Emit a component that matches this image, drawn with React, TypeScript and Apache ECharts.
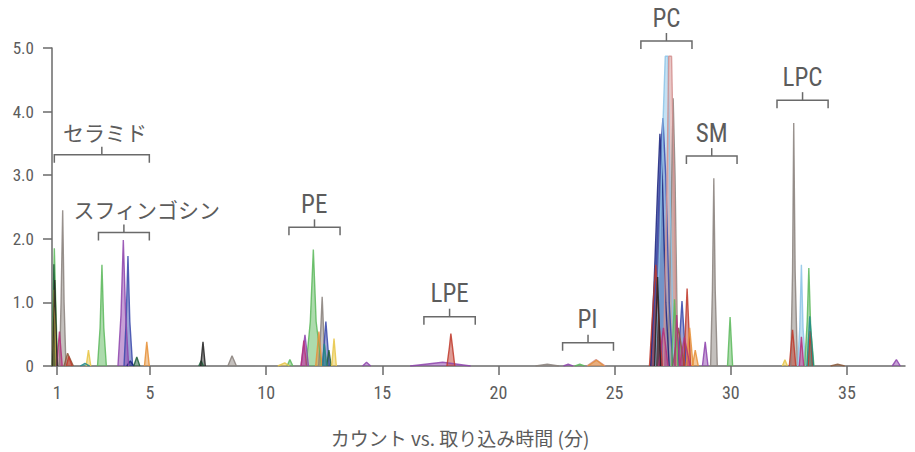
import React, { useEffect, useRef } from "react";
import * as echarts from "echarts";

// ---- axis ticks ----
const X_TICKS = [1, 5, 10, 15, 20, 25, 30, 35];
const Y_TICKS = [0, 1, 2, 3, 4, 5];
const X_TITLE = "カウント vs. 取り込み時間 (分)";

// ---- annotations: [xStart, xEnd, bracketY, labelX] ----
const ANNOT_LABELS = ["セラミド", "スフィンゴシン", "PE", "LPE", "PI", "PC", "SM", "LPC"];
const ANNOT_SPANS = [
  [0.88, 4.97, 3.32, 3.06],
  [2.78, 4.97, 2.1, 4.86],
  [10.98, 13.18, 2.18, 12.07],
  [16.79, 19.0, 0.775, 17.9],
  [22.76, 24.95, 0.366, 23.83],
  [26.13, 28.33, 5.11, 27.23],
  [28.09, 30.27, 3.3, 29.18],
  [31.99, 34.19, 4.18, 33.09],
];

// ---- chromatogram traces ----
const greenPeaks = [
  [[0.8, 0], [0.84, 1.2], [0.88, 1.85], [0.94, 1.0], [1.02, 0]],
  [[2.74, 0], [2.85, 0.6], [2.93, 1.59], [3.01, 0.6], [3.12, 0]],
  [[10.9, 0], [11.02, 0.1], [11.15, 0]],
  [[11.72, 0], [11.9, 0.7], [12.03, 1.83], [12.15, 0.7], [12.38, 0]],
  [[23.3, 0], [23.5, 0.03], [23.7, 0]],
  [[27.45, 0], [27.58, 1.05], [27.72, 0]],
  [[29.86, 0], [29.97, 0.77], [30.08, 0]],
  [[33.18, 0], [33.29, 0.7], [33.36, 1.54], [33.44, 0.6], [33.58, 0]],
];
const darkGreenPeaks = [
  [[0.8, 0], [0.86, 1.6], [0.93, 0.6], [1.02, 0]],
  [[4.3, 0], [4.43, 0.14], [4.56, 0]],
  [[7.1, 0], [7.2, 0.08], [7.3, 0]],
  [[12.6, 0], [12.7, 0.25], [12.8, 0]],
];
const greyPeaks = [
  [[1.1, 0], [1.17, 1.0], [1.24, 2.45], [1.3, 1.0], [1.38, 0]],
  [[8.35, 0], [8.53, 0.16], [8.72, 0]],
  [[12.26, 0], [12.34, 0.5], [12.41, 1.09], [12.49, 0.4], [12.6, 0]],
  [[21.6, 0], [22.1, 0.03], [22.6, 0]],
  [[27.3, 0], [27.42, 2.2], [27.52, 4.21], [27.6, 3.0], [27.72, 0]],
  [[29.13, 0], [29.21, 1.2], [29.27, 2.95], [29.33, 1.2], [29.42, 0]],
  [[32.58, 0], [32.66, 1.5], [32.71, 3.82], [32.77, 1.5], [32.87, 0]],
];
const brownPeaks = [
  [[1.3, 0], [1.45, 0.2], [1.7, 0]],
  [[27.5, 0], [27.75, 0.6], [28.0, 0]],
  [[34.3, 0], [34.6, 0.03], [34.9, 0]],
];
const purplePeaks = [
  [[3.62, 0], [3.75, 0.8], [3.85, 1.98], [3.95, 0.8], [4.08, 0]],
  [[11.5, 0], [11.67, 0.49], [11.82, 0]],
  [[14.15, 0], [14.32, 0.06], [14.5, 0]],
  [[16.2, 0], [17.6, 0.06], [18.8, 0]],
  [[22.8, 0], [23.0, 0.03], [23.2, 0]],
  [[28.78, 0], [28.9, 0.38], [29.02, 0]],
  [[36.95, 0], [37.13, 0.1], [37.3, 0]],
];
const bluePeaks = [
  [[3.88, 0], [3.97, 0.7], [4.05, 1.73], [4.13, 0.7], [4.25, 0]],
  [[12.42, 0], [12.57, 0.7], [12.72, 0]],
  [[26.55, 0], [26.75, 1.2], [26.9, 2.6], [27.0, 3.5], [27.08, 3.9], [27.2, 3.0], [27.35, 1.0], [27.5, 0]],
  [[27.72, 0], [27.9, 1.02], [28.08, 0]],
];
const navyPeaks = [
  [[26.55, 0], [26.72, 1.5], [26.85, 2.8], [26.95, 3.65], [27.05, 3.0], [27.2, 1.0], [27.35, 0]],
  [[4.0, 0], [4.15, 0.08], [4.3, 0]],
];
const lightBluePeaks = [
  [[26.75, 0], [26.95, 2.0], [27.08, 3.8], [27.18, 4.87], [27.3, 4.87], [27.4, 2.5], [27.55, 0]],
  [[32.88, 0], [32.97, 0.6], [33.04, 1.59], [33.11, 0.6], [33.22, 0]],
];
const pinkPeaks = [
  [[27.1, 0], [27.25, 2.8], [27.33, 4.87], [27.45, 4.87], [27.55, 3.0], [27.68, 0]],
  [[23.8, 0], [24.2, 0.1], [24.6, 0]],
];
const redPeaks = [
  [[1.4, 0], [1.5, 0.15], [1.65, 0]],
  [[17.78, 0], [17.89, 0.3], [17.95, 0.51], [18.02, 0.3], [18.12, 0]],
  [[26.5, 0], [26.66, 1.0], [26.77, 1.59], [26.87, 0.9], [27.05, 0]],
  [[27.98, 0], [28.12, 1.22], [28.27, 0]],
  [[32.52, 0], [32.66, 0.57], [32.8, 0]],
  [[33.33, 0], [33.42, 0.55], [33.52, 0]],
];
const orangePeaks = [
  [[4.76, 0], [4.86, 0.38], [4.97, 0]],
  [[12.13, 0], [12.27, 0.54], [12.4, 0]],
  [[23.85, 0], [24.22, 0.09], [24.55, 0]],
  [[28.08, 0], [28.23, 0.6], [28.38, 0]],
  [[28.35, 0], [28.47, 0.25], [28.6, 0]],
];
const yellowPeaks = [
  [[0.8, 0], [0.88, 1.2], [0.97, 0]],
  [[2.25, 0], [2.35, 0.25], [2.45, 0]],
  [[10.5, 0], [10.8, 0.05], [11.0, 0]],
  [[12.82, 0], [12.92, 0.43], [13.02, 0]],
  [[32.22, 0], [32.33, 0.1], [32.44, 0]],
];
const magentaPeaks = [
  [[0.98, 0], [1.1, 0.54], [1.22, 0]],
  [[11.5, 0], [11.62, 0.4], [11.74, 0]],
  [[26.9, 0], [27.1, 0.6], [27.3, 0]],
  [[27.58, 0], [27.67, 0.8], [27.8, 0]],
  [[27.8, 0], [28.0, 0.45], [28.25, 0]],
  [[32.95, 0], [33.04, 0.46], [33.14, 0]],
];
const blackPeaks = [
  [[0.8, 0], [0.9, 1.35], [1.0, 0]],
  [[7.18, 0], [7.28, 0.38], [7.38, 0]],
  [[26.72, 0], [26.85, 1.4], [26.98, 0]],
];
const tealPeaks = [
  [[12.43, 0], [12.5, 0.35], [12.6, 0]],
  [[33.28, 0], [33.4, 0.78], [33.56, 0]],
  [[2.0, 0], [2.2, 0.04], [2.4, 0]],
];

const TRACE_GROUPS: [string, number[][][]][] = [
  ["#8a817c", greyPeaks],
  ["#3949ab", bluePeaks],
  ["#1a237e", navyPeaks],
  ["#8cc4e8", lightBluePeaks],
  ["#d4918f", pinkPeaks],
  ["#8b5a3c", brownPeaks],
  ["#5cb85c", greenPeaks],
  ["#1e5e3a", darkGreenPeaks],
  ["#8e44ad", purplePeaks],
  ["#c0392b", redPeaks],
  ["#e69138", orangePeaks],
  ["#e8c547", yellowPeaks],
  ["#b5307a", magentaPeaks],
  ["#222222", blackPeaks],
  ["#1f8a8a", tealPeaks],
];

const FONT = "'Roboto Condensed','Liberation Sans Narrow','DejaVu Sans Condensed',Roboto,'Noto Sans CJK JP',sans-serif";
const TEXT_COLOR = "#5c5c5c";
const AXIS_COLOR = "#6a6a6a";

export default function App() {
  const ref = useRef<HTMLDivElement>(null);
  useEffect(() => {
    if (!ref.current) return;
    const chart = echarts.init(ref.current, null, { renderer: "svg" });
    const traceSeries: any[] = [];
    TRACE_GROUPS.forEach(([color, peaks]) => {
      peaks.forEach((pts) => {
        traceSeries.push({
          type: "line",
          data: pts,
          symbol: "none",
          silent: true,
          lineStyle: { color, width: 1.4, opacity: 0.85 },
          areaStyle: { color, opacity: 0.5 },
          z: 2,
        });
      });
    });
    const annotSeries = {
      type: "custom",
      coordinateSystem: "cartesian2d",
      clip: false,
      silent: true,
      z: 5,
      encode: { x: [0, 1, 3], y: 2 },
      data: ANNOT_SPANS,
      renderItem: (params: any, api: any) => {
        const p0 = api.coord([api.value(0), api.value(2)]);
        const p1 = api.coord([api.value(1), api.value(2)]);
        const lx = api.coord([api.value(3), api.value(2)])[0];
        const cx = (p0[0] + p1[0]) / 2;
        const y = p0[1];
        const label = ANNOT_LABELS[params.dataIndex];
        const cjk = /[^\x00-\x7F]/.test(label);
        return {
          type: "group",
          children: [
            {
              type: "polyline",
              shape: { points: [[p0[0], y + 8], [p0[0], y], [p1[0], y], [p1[0], y + 8]] },
              style: { stroke: AXIS_COLOR, fill: "none", lineWidth: 1.5 },
            },
            {
              type: "line",
              shape: { x1: cx, y1: y, x2: cx, y2: y - 8 },
              style: { stroke: AXIS_COLOR, lineWidth: 1.5 },
            },
            {
              type: "text",
              x: lx,
              y: y - 23,
              style: {
                text: label,
                fill: TEXT_COLOR,
                font: `${cjk ? 21 : 25}px ${cjk ? "'Noto Sans CJK JP'" : FONT}`,
                align: "center",
                verticalAlign: "middle",
              },
            },
          ],
        };
      },
    };
    chart.setOption({
      animation: false,
      backgroundColor: "#ffffff",
      grid: { left: 52, right: 10, top: 48, bottom: 86, containLabel: false },
      xAxis: {
        type: "value",
        min: 0.78,
        max: 37.5,
        splitLine: { show: false },
        axisLine: { lineStyle: { color: AXIS_COLOR, width: 1.5 } },
        axisTick: { customValues: X_TICKS, length: 9, lineStyle: { color: AXIS_COLOR, width: 1.5 } },
        axisLabel: {
          customValues: X_TICKS,
          formatter: (v: number) => String(v),
          color: TEXT_COLOR,
          fontSize: 18,
          fontFamily: FONT,
          margin: 17,
        },
      },
      yAxis: {
        type: "value",
        min: 0,
        max: 5,
        interval: 1,
        splitLine: { show: false },
        axisLine: { show: true, lineStyle: { color: AXIS_COLOR, width: 1.5 } },
        axisTick: { show: true, length: 9, lineStyle: { color: AXIS_COLOR, width: 1.5 } },
        axisLabel: {
          customValues: Y_TICKS,
          formatter: (v: number) => (v === 0 ? "0" : v.toFixed(1)),
          color: TEXT_COLOR,
          fontSize: 17,
          fontFamily: FONT,
          margin: 18,
        },
      },
      graphic: [
        {
          type: "text",
          x: 460,
          y: 437,
          style: {
            text: X_TITLE,
            fill: TEXT_COLOR,
            font: "19px 'Noto Sans CJK JP', sans-serif",
            align: "center",
            verticalAlign: "middle",
          },
        },
      ],
      series: [...traceSeries, annotSeries],
    });
    return () => chart.dispose();
  }, []);
  return (
    <div
      ref={ref}
      style={{ position: "absolute", left: 0, top: 0, width: 915, height: 452 }}
    />
  );
}
